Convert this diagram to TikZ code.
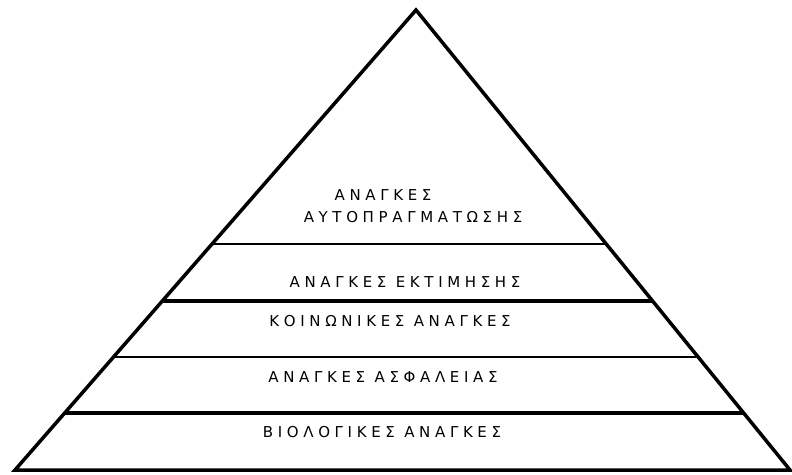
\documentclass[tikz,border=0pt]{standalone}
\usepackage{fontspec}
\setmainfont{DejaVu Sans}[LetterSpace=31]
\usetikzlibrary{calc}

\begin{document}
\begin{tikzpicture}[x=1pt,y=-1pt,line join=miter,
    lbl/.style={inner sep=0pt,font=\fontsize{15}{18}\selectfont}]
      \useasboundingbox (0,0) rectangle (792,474);
      \coordinate (top) at (416,10);
      \coordinate (bl) at (15,470);
      \coordinate (br) at (790,470);
      \draw[line width=3.5pt] (top) -- (bl) -- (br) -- cycle;
      % levels
      \coordinate (L1) at ($(top)!0.5087!(bl)$);
      \coordinate (R1) at ($(top)!0.5087!(br)$);
      \coordinate (L2) at ($(top)!0.6326!(bl)$);
      \coordinate (R2) at ($(top)!0.6326!(br)$);
      \coordinate (L3) at ($(top)!0.7543!(bl)$);
      \coordinate (R3) at ($(top)!0.7543!(br)$);
      \coordinate (L4) at ($(top)!0.8761!(bl)$);
      \coordinate (R4) at ($(top)!0.8761!(br)$);
      \draw[line width=2pt] (L1) -- (R1);
      \draw[line width=3.5pt] (L2) -- (R2);
      \draw[line width=2.5pt] (L3) -- (R3);
      \draw[line width=3.5pt] (L4) -- (R4);
      \node[lbl] (T1) at (383,195) {ΑΝΑΓΚΕΣ};
      \node[lbl] (T2) at (413,217) {ΑΥΤΟΠΡΑΓΜΑΤΩΣΗΣ};
      \node[lbl] (T3) at (405,282) {ΑΝΑΓΚΕΣ ΕΚΤΙΜΗΣΗΣ};
      \node[lbl] (T4) at (390,321) {ΚΟΙΝΩΝΙΚΕΣ ΑΝΑΓΚΕΣ};
      \node[lbl] (T5) at (383,377) {ΑΝΑΓΚΕΣ ΑΣΦΑΛΕΙΑΣ};
      \node[lbl] (T6) at (382,432) {ΒΙΟΛΟΓΙΚΕΣ ΑΝΑΓΚΕΣ};
\end{tikzpicture}
\end{document}
